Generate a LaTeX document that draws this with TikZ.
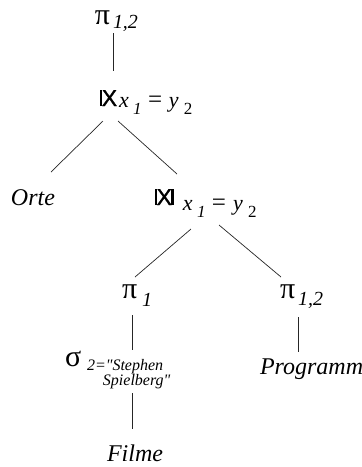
\documentclass[tikz,border=0pt]{standalone}
\usepackage{fontspec}
\setmainfont{Liberation Serif}
\newfontfamily\symsans{Liberation Sans}[FakeBold=1.2]
\newfontfamily\plainserif{Liberation Serif}[Ligatures=TeXOff]
\newcommand{\bigsz}{\fontsize{24}{26}\selectfont}
\newcommand{\grsz}{\fontsize{30}{30}\selectfont}
\newcommand{\subsz}{\fontsize{20}{20}\selectfont}
\newcommand{\digsz}{\fontsize{17}{17}\selectfont}
\newcommand{\condsz}{\fontsize{22}{22}\selectfont}
\newcommand{\eqsz}{\fontsize{25}{25}\selectfont}
\newcommand{\tinysz}{\fontsize{16}{14}\selectfont}
\newcommand{\mysemijoin}{{\symsans\fontsize{23}{23}\selectfont\rule{2.2pt}{0.716em}\kern-0.4pt X}}
\newcommand{\myjoin}{{\symsans\fontsize{23}{23}\selectfont\rule{2.2pt}{0.716em}\kern-0.6pt X\kern-0.6pt\rule{2.2pt}{0.716em}}}
\newcommand{\mycond}{\makebox[14pt][l]{\condsz\itshape x}\makebox[15pt][l]{\raisebox{-7pt}{\digsz\itshape 1}}\makebox[21pt][l]{\eqsz =}\makebox[15pt][l]{\condsz\itshape y}\raisebox{-7pt}{\digsz 2}}
\begin{document}
\begin{tikzpicture}[x=1pt,y=-1pt,
  lbl/.style={anchor=base west,inner sep=0pt,outer sep=0pt},
  edge/.style={line width=0.7pt,black!85}]
\useasboundingbox (0,0) rectangle (362,467);
% labels
\node[lbl] (ptop) at (95,24) {\makebox[18pt][l]{\grsz π}\raisebox{-4pt}{\subsz\itshape 1,2}};
\node[lbl] (sj) at (100,106) {\makebox[19pt][l]{\mysemijoin}\raisebox{-1pt}{\mycond}};
\node[lbl] (orte) at (11,205) {\bigsz\itshape Orte};
\node[lbl] (jn) at (155,205) {\makebox[28pt][l]{\myjoin}\raisebox{-5pt}{\mycond}};
\node[lbl] (pone) at (122,298) {\makebox[20pt][l]{\grsz π}\raisebox{-8pt}{\subsz\itshape 1}};
\node[lbl] (ponetwo) at (280,298) {\makebox[18pt][l]{\grsz π}\raisebox{-7pt}{\subsz\itshape 1,2}};
\node[lbl] (sigma) at (65,366) {\makebox[22pt][l]{\grsz σ}\raisebox{-4pt}{\tinysz\plainserif\itshape\begin{tabular}[t]{@{}l@{}}2="Stephen\\\hspace*{16pt}Spielberg"\end{tabular}}};
\node[lbl] (prog) at (260,374) {\bigsz\itshape Programm};
\node[lbl] (filme) at (107,461) {\bigsz\itshape Filme};
% connector end points
\coordinate (a1) at (113,33);  \coordinate (a2) at (113,71);
\coordinate (b1) at (103,121); \coordinate (b2) at (51,172);
\coordinate (c1) at (118,121); \coordinate (c2) at (177,174);
\coordinate (d1) at (191,229); \coordinate (d2) at (135,277);
\coordinate (e1) at (219,225); \coordinate (e2) at (281,277);
\coordinate (f1) at (132,315); \coordinate (f2) at (132,350);
\coordinate (g1) at (298,317); \coordinate (g2) at (298,352);
\coordinate (h1) at (132,393); \coordinate (h2) at (132,429);
\draw[edge] (a1) -- (a2);
\draw[edge] (b1) -- (b2);
\draw[edge] (c1) -- (c2);
\draw[edge] (d1) -- (d2);
\draw[edge] (e1) -- (e2);
\draw[edge] (f1) -- (f2);
\draw[edge] (g1) -- (g2);
\draw[edge] (h1) -- (h2);
\end{tikzpicture}
\end{document}
